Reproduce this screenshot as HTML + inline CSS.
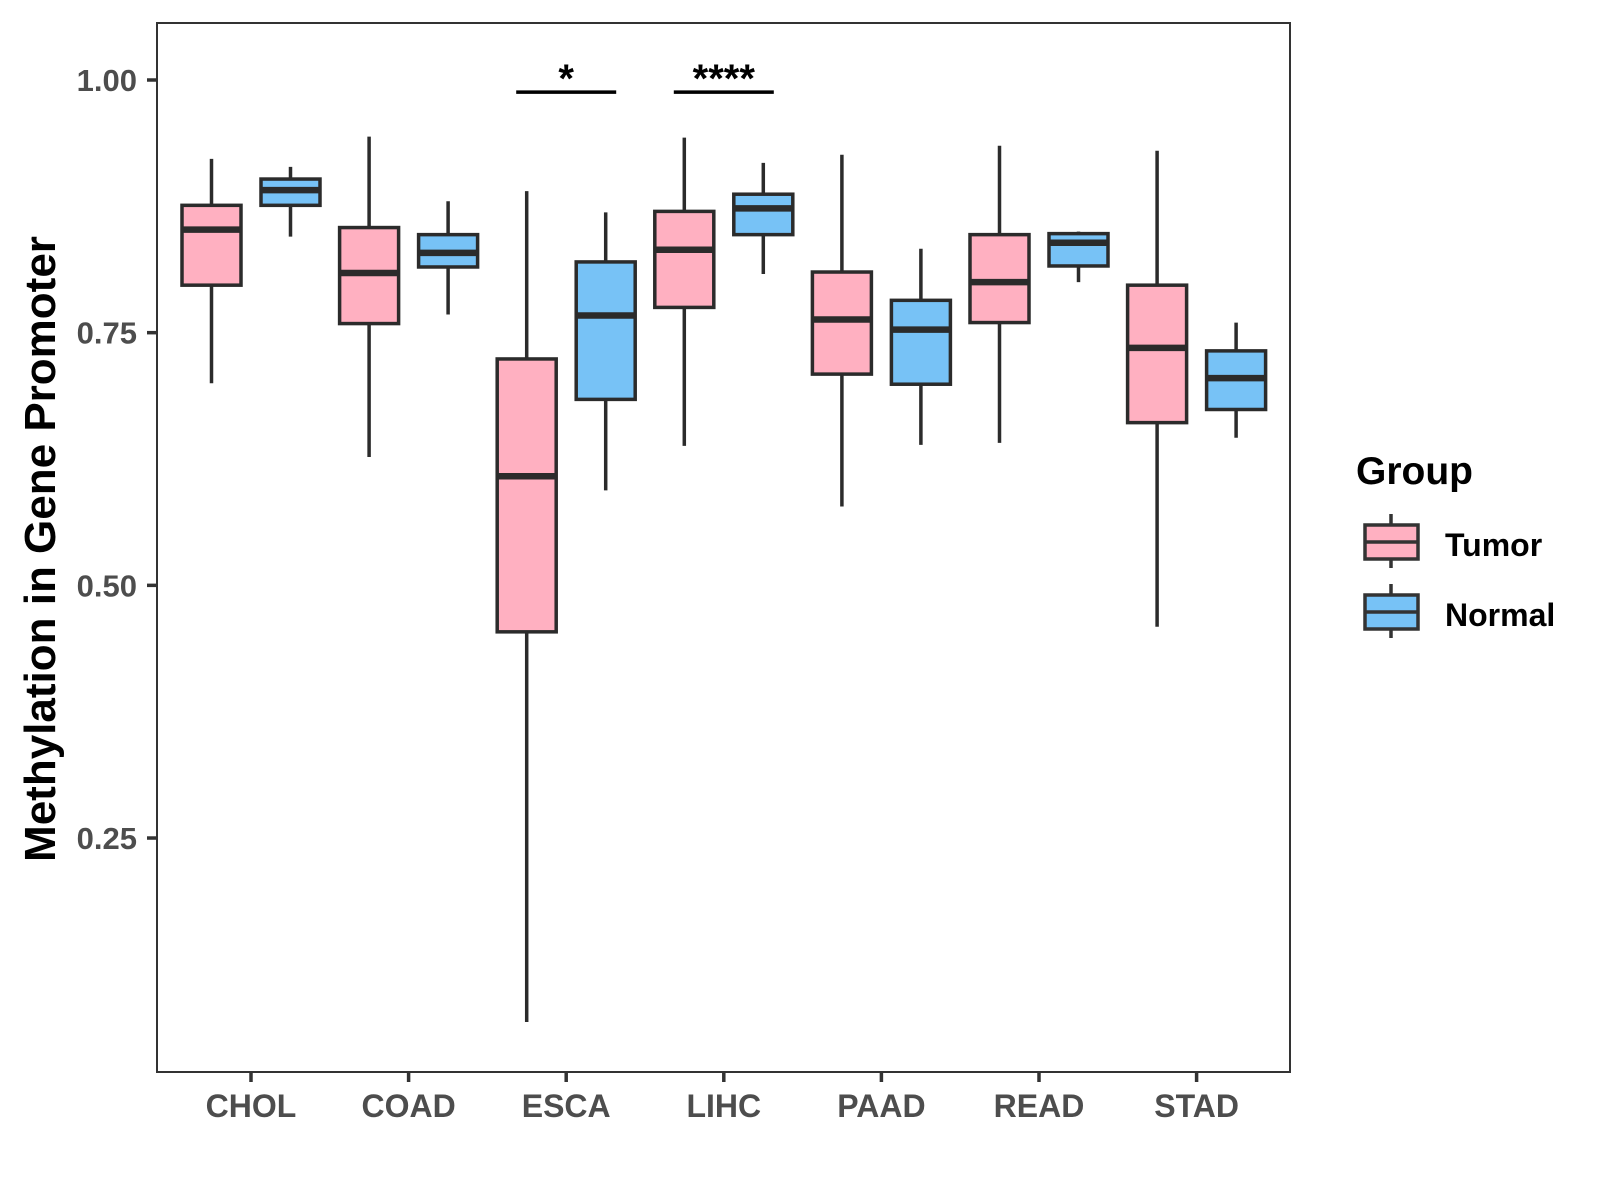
<!DOCTYPE html>
<html><head><meta charset="utf-8"><style>
body{margin:0;background:#fff}
svg{display:block;font-family:"Liberation Sans",Arial,sans-serif}
</style></head><body>
<svg id="chart" width="1600" height="1200" viewBox="0 0 1600 1200">
<rect x="157" y="23" width="1133" height="1049" fill="#fff" stroke="#333" stroke-width="2"/>
<g id="boxes"></g>
<g id="axes"></g>
<text transform="translate(55,549) rotate(-90)" text-anchor="middle" font-size="44" font-weight="bold" fill="#000">Methylation in Gene Promoter</text>
<g>
<text x="1356" y="484" font-size="39" font-weight="bold" fill="#000">Group</text>
<g>
<line x1="1391" y1="514" x2="1391" y2="568" stroke="#333" stroke-width="3.5"/>
<rect x="1365" y="525" width="53" height="34" fill="#FFB0C1" stroke="#333" stroke-width="3.5"/>
<line x1="1365" y1="542" x2="1418" y2="542" stroke="#333" stroke-width="3.5"/>
<text x="1445" y="556" font-size="32" font-weight="bold" fill="#000">Tumor</text>
</g>
<g>
<line x1="1391" y1="584" x2="1391" y2="638" stroke="#333" stroke-width="3.5"/>
<rect x="1365" y="595" width="53" height="34" fill="#77C2F6" stroke="#333" stroke-width="3.5"/>
<line x1="1365" y1="612" x2="1418" y2="612" stroke="#333" stroke-width="3.5"/>
<text x="1445" y="626" font-size="32" font-weight="bold" fill="#000">Normal</text>
</g>
</g>
</svg>
<script>
const categories = ["CHOL","COAD","ESCA","LIHC","PAAD","READ","STAD"];
const tumorLow  = [0.700,0.627,0.068,0.638,0.578,0.641,0.459];
const tumorQ1   = [0.797,0.759,0.454,0.775,0.709,0.760,0.661];
const tumorMed  = [0.852,0.809,0.608,0.832,0.763,0.800,0.735];
const tumorQ3   = [0.876,0.854,0.724,0.870,0.810,0.847,0.797];
const tumorHigh = [0.922,0.944,0.890,0.943,0.926,0.935,0.930];
const normalLow  = [0.845,0.768,0.594,0.808,0.639,0.800,0.646];
const normalQ1   = [0.876,0.815,0.684,0.847,0.699,0.816,0.674];
const normalMed  = [0.891,0.829,0.767,0.873,0.753,0.839,0.705];
const normalQ3   = [0.902,0.847,0.820,0.887,0.782,0.848,0.732];
const normalHigh = [0.914,0.880,0.869,0.918,0.833,0.850,0.760];
const yTicks = [0.25,0.50,0.75,1.00];
const yTickLabels = ["0.25","0.50","0.75","1.00"];
const sigCategories = ["ESCA","LIHC"];
const sigLabels = ["*","****"];
const sigLevel = 0.988;

const NS="http://www.w3.org/2000/svg";
const y = v => 80 + (1 - v) * 1010.7;
const x = i => 251 + 157.6 * i;
const boxes = document.getElementById('boxes');
const axes = document.getElementById('axes');
function mk(tag, attrs, parent){const e=document.createElementNS(NS,tag);for(const k in attrs)e.setAttribute(k,attrs[k]);parent.appendChild(e);return e;}

function drawBox(cx, lo, q1, md, q3, hi, fill, name){
  const g = mk('g',{},boxes);
  
  
  mk('line',{x1:cx,x2:cx,y1:y(hi),y2:y(lo),stroke:'#2b2b2b','stroke-width':3.5},g);
  mk('rect',{x:cx-29.5,y:y(q3),width:59,height:y(q1)-y(q3),fill:fill,stroke:'#2b2b2b','stroke-width':3.5},g);
  mk('line',{x1:cx-29.5,x2:cx+29.5,y1:y(md),y2:y(md),stroke:'#2b2b2b','stroke-width':6.5},g);
}
categories.forEach((c,i)=>{
  drawBox(x(i)-39.5, tumorLow[i], tumorQ1[i], tumorMed[i], tumorQ3[i], tumorHigh[i], '#FFB0C1', 'box-tumor-'+c.toLowerCase());
  drawBox(x(i)+39.5, normalLow[i], normalQ1[i], normalMed[i], normalQ3[i], normalHigh[i], '#77C2F6', 'box-normal-'+c.toLowerCase());
  mk('line',{x1:x(i),x2:x(i),y1:1072,y2:1082,stroke:'#333','stroke-width':3.5},axes);
  const t = mk('text',{x:x(i),y:1117,'text-anchor':'middle','font-size':32,'font-weight':'bold',fill:'#4d4d4d'},axes);
  t.textContent = c;
  
  
});
yTicks.forEach((v,i)=>{
  mk('line',{x1:147,x2:157,y1:y(v),y2:y(v),stroke:'#333','stroke-width':3.5},axes);
  const t = mk('text',{x:137,y:y(v)+11,'text-anchor':'end','font-size':31,'font-weight':'bold',fill:'#4d4d4d'},axes);
  t.textContent = yTickLabels[i];
  
  
});
sigCategories.forEach((c,k)=>{
  const i = categories.indexOf(c);
  const g = mk('g',{},boxes);
  
  
  mk('line',{x1:x(i)-50,x2:x(i)+50,y1:y(sigLevel),y2:y(sigLevel),stroke:'#000','stroke-width':3.5},g);
  const t = mk('text',{x:x(i),y:y(sigLevel),'text-anchor':'middle','font-size':40,'font-weight':'bold',fill:'#000'},g);
  t.textContent = sigLabels[k];
});
</script>
</body></html>
